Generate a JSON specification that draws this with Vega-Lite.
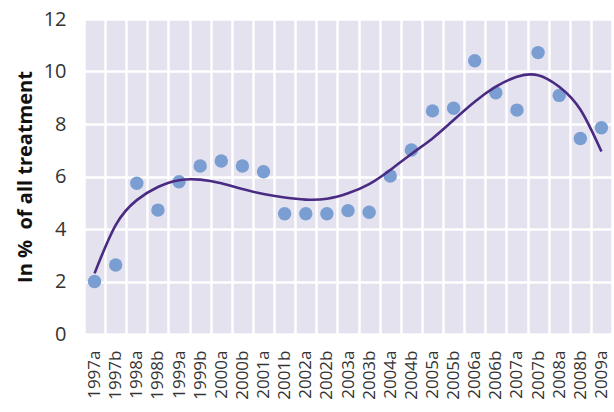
{
  "$schema": "https://vega.github.io/schema/vega-lite/v6.json",
  "width": 528,
  "height": 315,
  "autosize": {"type": "none"},
  "padding": {"left": 84, "top": 19, "right": 2, "bottom": 78},
  "config": {"view": {"fill": "#E3E2EE", "stroke": null}, "font": "Open Sans"},
  "data": {"values": [
    {"period": "1997a", "value": 2.0, "trend": 2.31},
    {"period": "1997b", "value": 2.63, "trend": 4.15},
    {"period": "1998a", "value": 5.74, "trend": 5.1},
    {"period": "1998b", "value": 4.72, "trend": 5.6},
    {"period": "1999a", "value": 5.8, "trend": 5.86},
    {"period": "1999b", "value": 6.4, "trend": 5.88},
    {"period": "2000a", "value": 6.59, "trend": 5.74},
    {"period": "2000b", "value": 6.4, "trend": 5.52},
    {"period": "2001a", "value": 6.18, "trend": 5.33},
    {"period": "2001b", "value": 4.58, "trend": 5.2},
    {"period": "2002a", "value": 4.58, "trend": 5.12},
    {"period": "2002b", "value": 4.58, "trend": 5.15},
    {"period": "2003a", "value": 4.7, "trend": 5.36},
    {"period": "2003b", "value": 4.64, "trend": 5.71},
    {"period": "2004a", "value": 6.02, "trend": 6.25},
    {"period": "2004b", "value": 7.01, "trend": 6.86},
    {"period": "2005a", "value": 8.5, "trend": 7.45},
    {"period": "2005b", "value": 8.6, "trend": 8.15},
    {"period": "2006a", "value": 10.41, "trend": 8.85},
    {"period": "2006b", "value": 9.19, "trend": 9.42},
    {"period": "2007a", "value": 8.53, "trend": 9.8},
    {"period": "2007b", "value": 10.72, "trend": 9.86},
    {"period": "2008a", "value": 9.09, "trend": 9.42},
    {"period": "2008b", "value": 7.45, "trend": 8.55},
    {"period": "2009a", "value": 7.86, "trend": 6.95}
  ]},
  "encoding": {
    "x": {"field": "period", "type": "ordinal", "sort": null,
      "scale": {"paddingInner": 0, "paddingOuter": 0},
      "axis": {"title": null, "labelAngle": -90, "labelFontSize": 17, "labelColor": "#333333",
        "ticks": false, "domain": false, "grid": true, "gridColor": "white", "gridWidth": 2.5,
        "tickBand": "extent", "labelPadding": 16, "labelAlign": "right", "labelBaseline": "middle"}}
  },
  "layer": [
    {
      "mark": {"type": "circle", "size": 180, "color": "#7A9ED2", "opacity": 1},
      "encoding": {
        "y": {"field": "value", "type": "quantitative",
          "scale": {"domain": [0, 12], "nice": false},
          "axis": {"title": "In %\u00a0 of all treatment", "titleFontSize": 20, "titleFontWeight": "bold", "titleColor": "#111111",
            "values": [0, 2, 4, 6, 8, 10, 12], "labelFontSize": 20, "labelColor": "#333333", "labelPadding": 18,
            "ticks": false, "domain": false, "grid": true, "gridColor": "white", "gridWidth": 2.5, "titlePadding": 8}}
      }
    },
    {
      "mark": {"type": "line", "color": "#4A2A82", "strokeWidth": 2.6, "interpolate": "natural"},
      "encoding": {
        "y": {"field": "trend", "type": "quantitative"}
      }
    }
  ]
}
